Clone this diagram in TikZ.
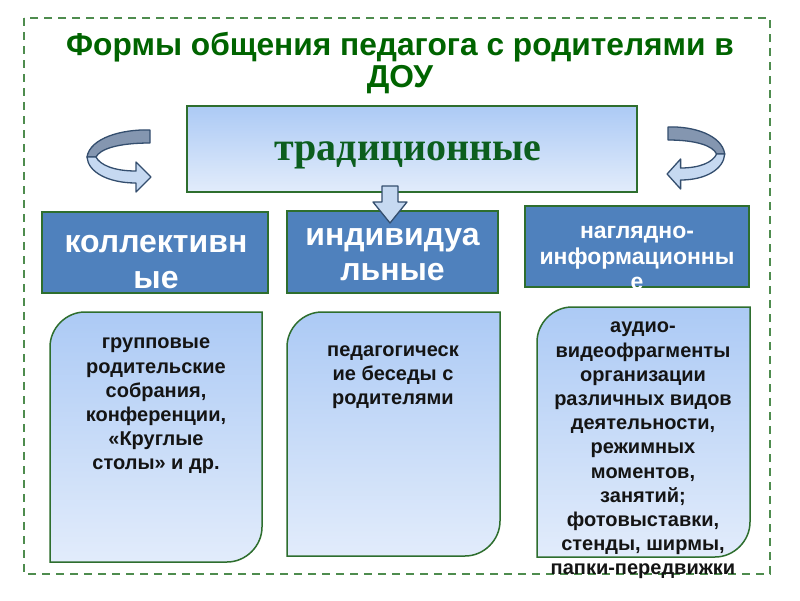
\documentclass[tikz,border=0pt]{standalone}
\usepackage{fontspec}
\setmainfont{Liberation Sans}
\newfontfamily\seriffont{Liberation Serif}
\definecolor{bordergreen}{RGB}{46,110,46}
\definecolor{dashgreen}{RGB}{78,140,78}
\definecolor{titlegreen}{RGB}{0,100,0}
\definecolor{tradgreen}{RGB}{12,94,30}
\definecolor{boxblue}{RGB}{79,129,189}
\definecolor{gradtop}{RGB}{172,202,245}
\definecolor{gradbot}{RGB}{226,236,251}
\definecolor{textblack}{RGB}{20,20,20}
\definecolor{arrowline}{RGB}{52,78,110}
\definecolor{arrowback}{RGB}{132,150,176}
\definecolor{arrowfront}{RGB}{198,217,241}
\newcommand\myuarrow{%
  \filldraw[arrowpart, fill=arrowback] (150,130) .. controls (122,129) and (90,138) .. (87,157)
    -- (96,157) .. controls (100,149) and (118,143) .. (150,143) -- cycle;
  \filldraw[arrowpart, fill=arrowfront] (87,157) .. controls (88,172) and (108,183) .. (136,183)
    -- (136,192) -- (151,177) -- (136,162) -- (136,171)
    .. controls (114,171) and (100,165) .. (96,157) -- cycle;}
\tikzset{
  border/.style={draw=bordergreen, line width=1.5pt},
  bluebox/.style={border, fill=boxblue, inner sep=0pt},
  gradbox/.style={border, top color=gradtop, bottom color=gradbot},
  whitetext/.style={text=white, font=\bfseries, align=center, inner sep=0pt},
  boxtext/.style={text=textblack, font=\bfseries\fontsize{20}{24.2}\selectfont, align=center, inner sep=0pt},
  arrowpart/.style={draw=arrowline, line width=1.3pt, line join=round},
}
\begin{document}
\begin{tikzpicture}[x=1pt,y=-1pt]
\useasboundingbox (0,0) rectangle (800,600);
\fill[white] (0,0) rectangle (800,600);
% dashed frame
\draw[dashgreen, line width=2.6pt, dash pattern=on 8pt off 6pt] (24,18) rectangle (770,574);
% title
\node[text=titlegreen, font=\bfseries\fontsize{31.7}{32}\selectfont, align=center, inner sep=0pt] (title) at (400,63)
  {Формы общения педагога с родителями в\\ДОУ};
% top box
\node[gradbox, minimum width=450pt, minimum height=86pt, inner sep=0pt] (trad) at (412,149) {};
\node[text=tradgreen, font=\seriffont\bfseries\fontsize{40}{44}\selectfont, inner sep=0pt, anchor=base] (tradtext) at (408,160) {традиционные};
% curved arrows
\myuarrow
\begin{scope}[shift={(803,-3)}, xscale=-0.9]
\myuarrow
\end{scope}
% blue boxes
\node[bluebox, minimum width=226pt, minimum height=81pt] (b1) at (155,252.5) {};
\node[bluebox, minimum width=211pt, minimum height=82pt] (b2) at (392.5,252) {};
\node[bluebox, minimum width=224pt, minimum height=81pt] (b3) at (637,246.5) {};
\node[whitetext, font=\bfseries\fontsize{32}{36}\selectfont] (t1) at (156,262) {коллективн\\ые};
\node[whitetext, font=\bfseries\fontsize{32}{35}\selectfont] (t2) at (392.5,255) {индивидуа\\льные};
\node[whitetext, font=\bfseries\fontsize{23}{25.5}\selectfont] (t3) at (637,258) {наглядно-\\информационны\\е};
% rounded gradient boxes
\path[gradbox] (50,562) -- (50,347) .. controls (50,328) and (66,312) .. (85,312) -- (262,312) -- (262,527)
  .. controls (262,546) and (246,562) .. (227,562) -- cycle;
\path[gradbox] (287,556) -- (287,347) .. controls (287,328) and (303,312) .. (322,312) -- (500,312) -- (500,521)
  .. controls (500,540) and (484,556) .. (465,556) -- cycle;
\path[gradbox] (537,557) -- (537,342) .. controls (537,323) and (553,307) .. (572,307) -- (750,307) -- (750,522)
  .. controls (750,541) and (734,557) .. (715,557) -- cycle;
\node[boxtext] (l1) at (156,406) {групповые\\родительские\\собрания,\\конференции,\\«Круглые\\столы» и др.};
\node[boxtext] (l2) at (393,377) {педагогическ\\ие беседы с\\родителями};
\node[boxtext] (l3) at (643,450.5) {аудио-\\видеофрагменты\\организации\\различных видов\\деятельности,\\режимных\\моментов,\\занятий;\\фотовыставки,\\стенды, ширмы,\\папки-передвижки};
% down arrow
\filldraw[arrowpart, fill=arrowfront] (382,186) -- (398,186) -- (398,202) -- (407,202) -- (390,223)
  -- (373,202) -- (382,202) -- cycle;
\end{tikzpicture}
\end{document}
